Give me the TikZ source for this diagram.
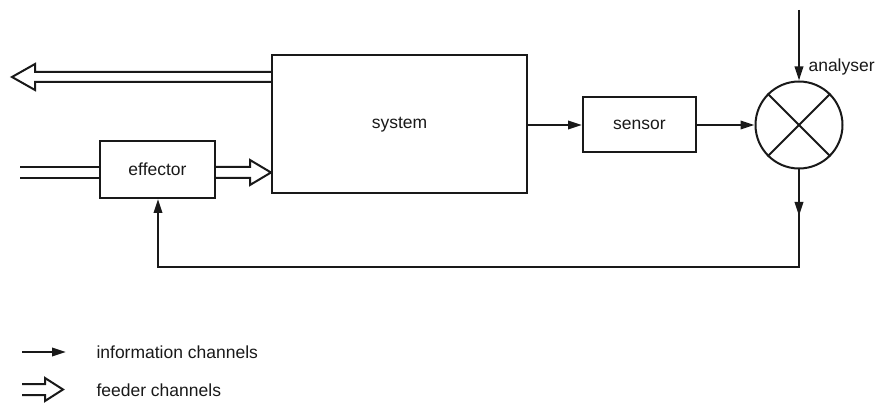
\documentclass[tikz,border=0pt]{standalone}
\usepackage{fontspec}
\setmainfont{Liberation Sans}
\usetikzlibrary{arrows.meta}
\definecolor{ink}{gray}{0.1}
\begin{document}
\begin{tikzpicture}[x=1pt,y=-1pt,
  every node/.style={font=\fontsize{17.5}{20}\selectfont, text=ink},
  blk/.style={draw=ink, line width=2pt, rectangle, inner sep=0pt},
  info/.style={draw=ink, line width=2pt, -{Triangle[length=14pt,width=8.5pt]}},
  wire/.style={draw=ink, line width=2pt},
  feed/.style={draw=ink, line width=2pt, line join=miter}]
\useasboundingbox (0,0) rectangle (878,403);
% blocks
\node[blk, minimum width=255pt, minimum height=138pt] (system) at (399.5,124.5) {system};
\node[blk, minimum width=115pt, minimum height=57pt] (effector) at (157.5,169.5) {effector};
\node[blk, minimum width=113pt, minimum height=55pt] (sensor) at (639.5,125) {sensor};
\node[draw=ink, line width=2pt, circle, minimum size=87pt, inner sep=0pt] (ana) at (799,125) {};
\draw[wire] (ana.45) -- (ana.225);
\draw[wire] (ana.135) -- (ana.315);
\node[anchor=west] (analab) at (805,67) {analyser};
% information channels
\draw[info] (sensor.west -| system.east) -- (sensor.west);
\draw[info] (sensor.east) -- (ana.west);
\coordinate (topin) at (799,10);
\draw[info] (topin) -- (ana.north);
\coordinate (midout) at (799,216);
\coordinate (cornerR) at (799,267);
\coordinate (cornerL) at (158,267);
\draw[info] (ana.south) -- (midout);
\draw[info] (ana.south) -- (cornerR) -- (cornerL) -- (cornerL |- effector.south);
% feeder channels
\draw[feed] (system.west |- 0,72) -- (35,72) -- (35,64) -- (12,77) -- (35,90) -- (35,82) -- (system.west |- 0,82);
\coordinate (inA) at (20,167);
\coordinate (inB) at (20,178);
\draw[wire] (inA) -- (inA -| effector.west);
\draw[wire] (inB) -- (inB -| effector.west);
\draw[feed] (effector.east |- 0,167) -- (250,167) -- (250,160) -- (system.west |- 0,172.5) -- (250,185) -- (250,178) -- (effector.east |- 0,178);
% legend
\coordinate (lia) at (22,352);
\coordinate (lib) at (66,352);
\draw[info] (lia) -- (lib);
\node[anchor=west] (lit) at (93,352) {information channels};
\draw[feed] (22,384) -- (45,384) -- (45,378) -- (63,389.5) -- (45,401) -- (45,395) -- (22,395);
\node[anchor=west] (lft) at (93,390) {feeder channels};
\end{tikzpicture}
\end{document}
